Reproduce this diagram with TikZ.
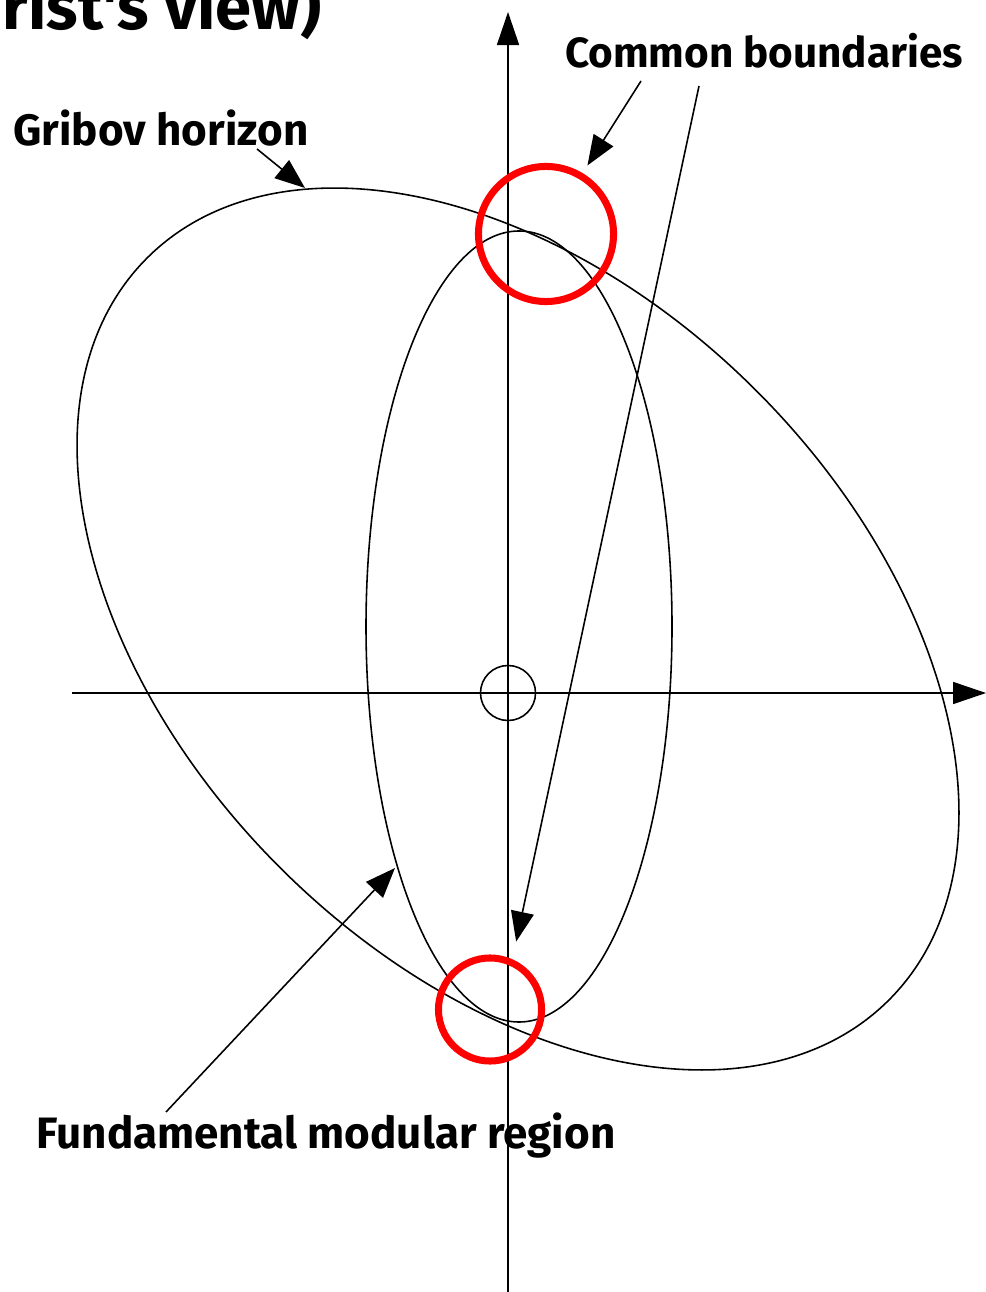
\documentclass[tikz,border=0pt]{standalone}
\usepackage{fontspec}
\usepackage{tikz}
\usetikzlibrary{arrows.meta,positioning}
\newfontfamily\labelfont{Fira Sans}

\begin{document}
\begin{tikzpicture}[x=0.01cm, y=-0.01cm,
		boundary/.style={line width=0.45pt},
		axisline/.style={line width=0.45pt, -{Triangle[length=0.33cm, width=0.22cm]}},
		pointer/.style={line width=0.45pt, -{Triangle[length=0.3cm, width=0.23cm]}},
		ring/.style={draw=red, line width=2pt, circle, inner sep=0pt},
		txt/.style={font=\labelfont\bfseries\fontsize{12.5}{15}\selectfont, inner sep=0pt, anchor=base},
		bigtxt/.style={font=\labelfont\bfseries\fontsize{18.5}{22}\selectfont}]
		\useasboundingbox (0,0) rectangle (986,1292);
		\coordinate (O) at (508,693);
		\coordinate (xs) at (72,693);
		\coordinate (xe) at (986,693);
		\coordinate (ys) at (508,1292);
		\coordinate (ye) at (508,12);
		% axes
		\draw[axisline] (xs)--(xe);
		\draw[axisline] (ys)--(ye);
		\node[draw, circle, inner sep=0pt, minimum size=0.55cm, line width=0.45pt] (orig) at (O) {};
		% Gribov horizon and fundamental modular region
		\draw[boundary, shift={(518,629)}, rotate=-45] (0,0) ellipse [x radius=524.6, y radius=337];
		\draw[boundary] (519,626.5) ellipse [x radius=153, y radius=395.5];
		% common boundaries
		\node[ring, minimum size=1.35cm] (top) at (546,234) {};
		\node[ring, minimum size=1.03cm] (bottom) at (490,1009.5) {};
		% labels
		\node[txt, bigtxt] (title) at (162,30) {rist's view)};
		\node[txt, font=\labelfont\bfseries\fontsize{12}{15}\selectfont] (common) at (764,68) {Common boundaries};
		\node[txt] (gribov) at (161,146) {Gribov horizon};
		\node[txt] (fmr) at (326,1148) {Fundamental modular region};
		% pointers
		\coordinate (c1) at (641,81);
		\coordinate (c2) at (699,86);
		\coordinate (g1) at (257,149);
		\coordinate (g2) at (305,188);
		\coordinate (f1) at (166,1112);
		\coordinate (f2) at (395,868);
		\draw[pointer, shorten >=0.09cm] (c1)--(top.59);
		\draw[pointer, shorten >=0.18cm] (c2)--(bottom.66);
		\draw[pointer] (g1)--(g2);
		\draw[pointer] (f1)--(f2);
	\end{tikzpicture}
\end{document}
